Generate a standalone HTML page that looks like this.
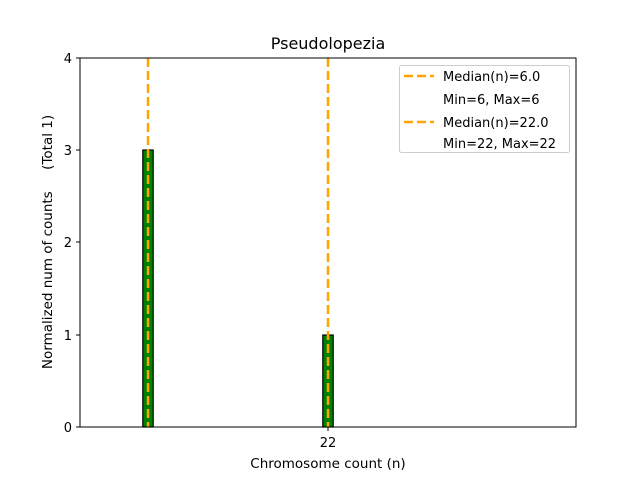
<!DOCTYPE html>
<html><head><style>body{margin:0;background:#fff}</style></head><body>
<svg width="640" height="480" xmlns="http://www.w3.org/2000/svg" font-family="DejaVu Sans, Liberation Sans, sans-serif">
<rect width="640" height="480" fill="#fff"/>
<line x1="80" y1="427" x2="187" y2="427" stroke="#888" stroke-width="1"/>
<rect x="142.8" y="150" width="10.4" height="277" fill="#008000" stroke="#000" stroke-width="1.2"/>
<rect x="322.8" y="335" width="10.4" height="92" fill="#008000" stroke="#000" stroke-width="1.2"/>
<line x1="148" y1="58" x2="148" y2="427" stroke="#FFA500" stroke-width="2.5" stroke-dasharray="9,4"/>
<line x1="328" y1="58" x2="328" y2="427" stroke="#FFA500" stroke-width="2.5" stroke-dasharray="9,4"/>
<rect x="80" y="58" width="496" height="369" fill="none" stroke="#000" stroke-width="1"/>
<g stroke="#000"><line x1="76" y1="427" x2="80" y2="427"/><line x1="76" y1="335" x2="80" y2="335"/><line x1="76" y1="242" x2="80" y2="242"/><line x1="76" y1="150" x2="80" y2="150"/><line x1="76" y1="58" x2="80" y2="58"/><line x1="328" y1="427" x2="328" y2="431"/></g>
<g font-size="13" text-anchor="end"><text x="72" y="432">0</text><text x="72" y="340">1</text><text x="72" y="247">2</text><text x="72" y="155">3</text><text x="72" y="63">4</text></g>
<text x="328" y="447" font-size="13" text-anchor="middle">22</text>
<text x="328" y="468" font-size="13.5" text-anchor="middle">Chromosome count (n)</text>
<text x="328" y="49" font-size="16" text-anchor="middle">Pseudolopezia</text>
<text transform="translate(52,242) rotate(-90)" font-size="13.5" text-anchor="middle" xml:space="preserve" style="white-space:pre">Normalized num of counts     (Total 1)</text>
<rect x="399.5" y="65.5" width="170" height="87" rx="2" fill="#fff" stroke="#ccc"/>
<g stroke="#FFA500" stroke-width="2.5" stroke-dasharray="9,4"><line x1="404" y1="76" x2="434" y2="76"/><line x1="404" y1="122" x2="434" y2="122"/></g>
<g font-size="13"><text x="443" y="81">Median(n)=6.0</text><text x="443" y="104">Min=6, Max=6</text><text x="443" y="127">Median(n)=22.0</text><text x="443" y="148">Min=22, Max=22</text></g>
</svg>
</body></html>
